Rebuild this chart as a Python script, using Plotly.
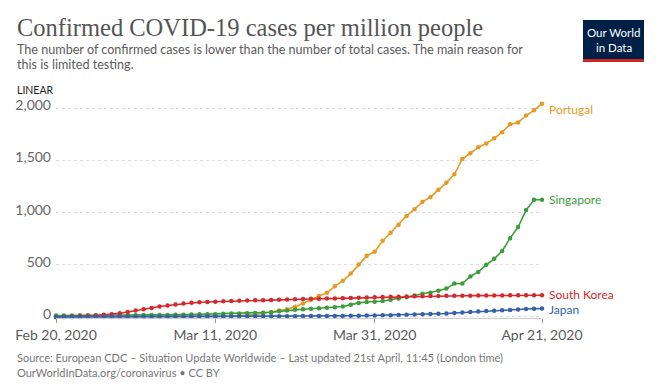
import pandas as pd
import plotly.graph_objects as go

# ---- data (cases per million, daily Feb 20 .. Apr 21, 2020) ----
dates = pd.date_range("2020-02-20", "2020-04-21", freq="D")

portugal = [0, 0, 0, 0, 0, 0, 0, 0, 0, 0,
            0, 0, 0.2, 0.4, 0.6, 0.9, 1.3, 2.1, 2.9, 3.8,
            4.0, 5.8, 7.6, 11, 16.6, 24, 35, 46, 63, 74,
            98, 128, 163, 200, 231, 294, 347, 416, 503, 586,
            626, 731, 808, 884, 969, 1033, 1104, 1150, 1219, 1288,
            1368, 1515, 1570, 1627, 1663, 1713, 1772, 1848, 1865, 1932,
            1982, 2045]

singapore = [14.4, 14.5, 14.7, 15.2, 15.2, 15.4, 15.6, 15.9, 16.4, 16.8,
             17.4, 18.1, 18.5, 18.8, 19.1, 20.0, 22.2, 23.6, 25.6, 25.6,
             27.0, 30.0, 32.0, 34.0, 36.0, 38.6, 41.5, 45.5, 54, 62,
             68, 74, 78, 84, 89, 93, 100, 118, 135, 143,
             145, 153, 165, 176, 189, 205, 222, 233, 251, 272,
             320, 321, 388, 432, 500, 558, 633, 756, 863, 1025,
             1124, 1124]

south_korea = [1.0, 2.0, 4.0, 6.0, 10.0, 14.0, 20.0, 27.0, 35.0, 48.0,
               62.0, 75.0, 87.0, 100.0, 110.0, 119.0, 129.0, 137.0, 141.0, 144.0,
               146.5, 151.3, 153.5, 155.6, 157.7, 159.2, 160.6, 162.3, 164.1, 167.1,
               168.8, 171.6, 173.5, 174.8, 176.3, 178.2, 180.2, 182.0, 184.9, 186.9,
               188.4, 190.9, 192.8, 194.6, 196.3, 198.1, 199.7, 200.6, 201.5, 202.5,
               203.3, 203.8, 204.4, 205.0, 205.5, 206.0, 206.6, 207.0, 207.4, 207.8,
               207.9, 208.2]

japan = [0.6, 0.7, 0.7, 0.8, 1.0, 1.1, 1.2, 1.3, 1.5, 1.7,
         1.8, 1.9, 2.0, 2.1, 2.2, 2.5, 2.8, 3.2, 3.6, 3.9,
         4.1, 4.5, 4.9, 5.3, 5.7, 6.2, 6.4, 6.6, 6.9, 7.2,
         7.5, 8.0, 8.3, 8.6, 8.9, 9.4, 10.2, 11.0, 11.9, 13.4,
         14.8, 15.4, 17.2, 18.8, 20.7, 23.2, 25.9, 28.9, 30.9, 33.7,
         37.7, 42.3, 47.5, 53.4, 57.4, 60.4, 64.0, 67.9, 72.0, 76.0,
         78.0, 80.0]

series_names = ["Portugal", "Singapore", "South Korea", "Japan"]
series_values = [portugal, singapore, south_korea, japan]
series_colors = ["#E69A23", "#3A9E3C", "#D42A2F", "#3461AD"]
label_shift = [-6, 0, 1, -1]

x_tick_vals = ["2020-02-20", "2020-03-11", "2020-03-31", "2020-04-21"]
x_tick_text = ["Feb 20, 2020", "Mar 11, 2020", "Mar 31, 2020", "Apr 21, 2020"]
y_tick_vals = [0, 500, 1000, 1500, 2000]
y_tick_text = ["0", "500", "1,000", "1,500", "2,000"]

# ---- layout geometry (pixels) ----
W, H = 660, 387
L, R, T, B = 56, 118, 98, 69
PW, PH = W - L - R, H - T - B


def px(xp):
    return (xp - L) / PW


def py(yp):
    return (H - B - yp) / PH


FONT = "Lato, 'Open Sans', sans-serif"

fig = go.Figure()
for name, vals, col in zip(series_names, series_values, series_colors):
    fig.add_trace(go.Scatter(
        x=dates, y=vals, mode="lines+markers", name=name,
        line=dict(color=col, width=1.6),
        marker=dict(color=col, size=4.5),
        cliponaxis=False, showlegend=False,
    ))

annotations = []
for name, vals, col, sh in zip(series_names, series_values, series_colors, label_shift):
    annotations.append(dict(
        x=dates[-1], y=vals[-1], xref="x", yref="y", text=name,
        showarrow=False, xanchor="left", yanchor="middle", xshift=5, yshift=sh,
        font=dict(family=FONT, size=12, color=col),
    ))

annotations += [
    dict(x=px(15), y=py(27), xref="paper", yref="paper", xanchor="left", yanchor="middle",
         text="Confirmed COVID-19 cases per million people", showarrow=False,
         font=dict(family="'Liberation Serif', serif", size=24.5, color="#555555")),
    dict(x=px(15), y=py(49.5), xref="paper", yref="paper", xanchor="left", yanchor="middle",
         text="The number of confirmed cases is lower than the number of total cases. The main reason for",
         showarrow=False, font=dict(family=FONT, size=12.6, color="#5b5b5b")),
    dict(x=px(15), y=py(64.5), xref="paper", yref="paper", xanchor="left", yanchor="middle",
         text="this is limited testing.", showarrow=False,
         font=dict(family=FONT, size=12.6, color="#5b5b5b")),
    dict(x=px(15), y=py(90.5), xref="paper", yref="paper", xanchor="left", yanchor="middle",
         text="LINEAR", showarrow=False, font=dict(family=FONT, size=10.5, color="#222222")),
    dict(x=px(15), y=py(357), xref="paper", yref="paper", xanchor="left", yanchor="middle",
         text="Source: European CDC – Situation Update Worldwide – Last updated 21st April, 11:45 (London time)",
         showarrow=False, font=dict(family=FONT, size=11, color="#777777")),
    dict(x=px(15), y=py(372), xref="paper", yref="paper", xanchor="left", yanchor="middle",
         text="OurWorldInData.org/coronavirus • CC BY", showarrow=False,
         font=dict(family=FONT, size=11, color="#777777")),
    dict(x=px(613.5), y=py(32.5), xref="paper", yref="paper", xanchor="center", yanchor="middle",
         text="Our World", showarrow=False, font=dict(family=FONT, size=11.5, color="#ffffff")),
    dict(x=px(613.5), y=py(47.5), xref="paper", yref="paper", xanchor="center", yanchor="middle",
         text="in Data", showarrow=False, font=dict(family=FONT, size=11.5, color="#ffffff")),
]

shapes = [
    dict(type="rect", xref="paper", yref="paper", x0=px(583), x1=px(644), y0=py(62), y1=py(20),
         fillcolor="#002147", line=dict(width=0), layer="above"),
    dict(type="rect", xref="paper", yref="paper", x0=px(583), x1=px(644), y0=py(62), y1=py(59),
         fillcolor="#CE261E", line=dict(width=0), layer="above"),
]

fig.update_layout(
    width=W, height=H,
    margin=dict(l=L, r=R, t=T, b=B, pad=0),
    paper_bgcolor="white", plot_bgcolor="white",
    annotations=annotations, shapes=shapes,
    xaxis=dict(
        range=[dates[0], dates[-1]], tickvals=x_tick_vals, ticktext=x_tick_text,
        showgrid=False, zeroline=False, showline=True, linecolor="#cccccc", linewidth=1,
        ticks="outside", ticklen=4, tickcolor="#999999",
        tickfont=dict(family=FONT, size=14, color="#5b5b5b"),
    ),
    yaxis=dict(
        range=[-10, 2100], tickvals=y_tick_vals, ticktext=y_tick_text,
        showgrid=True, gridcolor="#dddddd", griddash="3px,3px", gridwidth=1,
        zeroline=False, showline=False, ticks="", ticklabelstandoff=4, ticklabelshift=-3,
        tickfont=dict(family=FONT, size=14, color="#666666"),
    ),
)

fig.write_html(
    "out.html",
    config={"displayModeBar": False},
    post_script="document.body.style.margin='0';document.body.style.overflow='hidden';",
)
